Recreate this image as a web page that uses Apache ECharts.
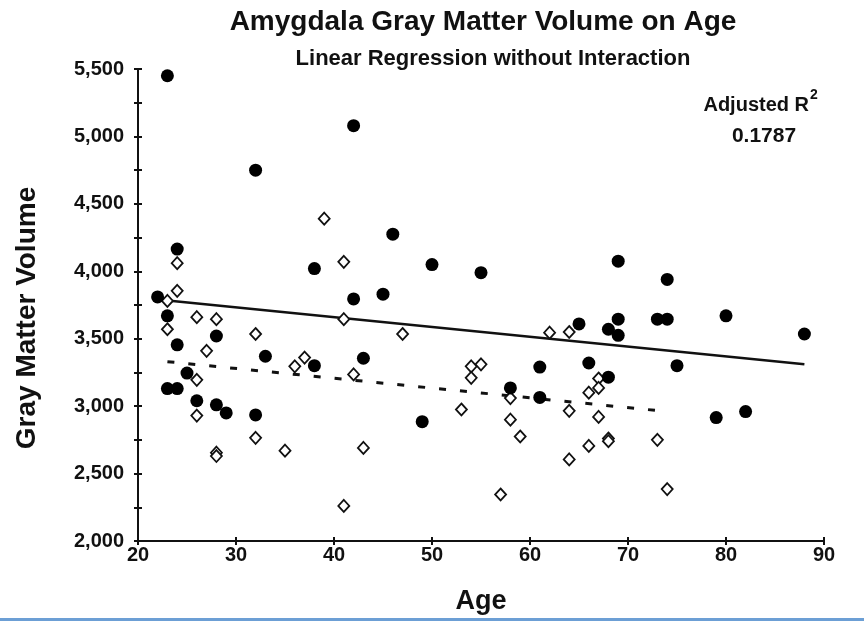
<!DOCTYPE html>
<html>
<head>
<meta charset="utf-8">
<title>Amygdala Gray Matter Volume on Age</title>
<script src="https://cdn.jsdelivr.net/npm/echarts@6/dist/echarts.min.js"></script>
<style>
  html, body { margin: 0; padding: 0; background: #ffffff; }
  #chart { width: 864px; height: 621px; }
</style>
</head>
<body>
<div id="chart"></div>
<script>
// Group shown with filled circles
const filledAge = [22, 23, 23, 23, 24, 24, 24, 25, 26, 28, 28, 29, 32, 32, 33, 38, 38, 42, 42, 43,
  45, 46, 49, 50, 55, 58, 61, 61, 65, 66, 68, 68, 69, 69, 69, 73, 74, 74, 75, 79, 80, 82, 88];
const filledVolume = [3810, 5450, 3670, 3130, 4165, 3455, 3130, 3245, 3040, 3520, 3010, 2950, 4750, 2935, 3370, 4020, 3300, 5080, 3795, 3355,
  3830, 4275, 2885, 4050, 3990, 3135, 3290, 3065, 3610, 3320, 3570, 3215, 4075, 3645, 3525, 3645, 3940, 3645, 3300, 2915, 3670, 2960, 3535];

// Group shown with open diamonds
const openAge = [23, 23, 24, 24, 26, 26, 26, 27, 28, 28, 28, 32, 32, 35, 36, 37, 39, 41, 41, 41, 42, 43,
  47, 53, 54, 54, 55, 57, 58, 58, 59, 62, 64, 64, 64, 66, 66, 67, 67, 67, 68, 68, 73, 74];
const openVolume = [3780, 3570, 4060, 3855, 3660, 3195, 2930, 3410, 3645, 2655, 2630, 3535, 2765, 2670, 3295, 3360, 4390, 4070, 3645, 2260, 3235, 2690,
  3535, 2975, 3295, 3210, 3310, 2345, 3060, 2900, 2775, 3545, 3550, 2965, 2605, 3100, 2705, 3205, 3135, 2920, 2760, 2740, 2750, 2385];

// Fitted regression lines (parallel: no interaction term)
const filledFitAge = [22, 88];
const filledFitVolume = [3790, 3310];
const openFitAge = [23, 74];
const openFitVolume = [3330, 2960];

// Axis ranges and ticks
const xMin = 20, xMax = 90, xStep = 10;
const yMin = 2000, yMax = 5500, yStep = 500;

const adjustedR2 = '0.1787';

const zip = (xs, ys) => xs.map((x, i) => [x, ys[i]]);
const FONT = '"Liberation Sans", Arial, Helvetica, sans-serif';

const chart = echarts.init(document.getElementById('chart'), null, { renderer: 'canvas' });

const baseX = {
  type: 'value', min: xMin, max: xMax, interval: xStep,
  splitLine: { show: false }
};
const baseY = {
  type: 'value', min: yMin, max: yMax, interval: yStep,
  splitLine: { show: false }
};

chart.setOption({
  backgroundColor: '#ffffff',
  animation: false,
  grid: { left: 138, right: 40, top: 69, bottom: 80, containLabel: false },
  xAxis: [
    Object.assign({}, baseX, {
      position: 'bottom',
      axisLine: { lineStyle: { color: '#111', width: 2 } },
      axisTick: { inside: false, length: 4, lineStyle: { color: '#111', width: 2 } },
      axisLabel: { color: '#111', fontFamily: FONT, fontWeight: 'bold', fontSize: 20, margin: 4 },
      name: 'Age', nameLocation: 'middle', nameGap: 47,
      nameTextStyle: { color: '#111', fontFamily: FONT, fontWeight: 'bold', fontSize: 27 }
    }),
    Object.assign({}, baseX, {
      position: 'bottom',
      axisLine: { show: false },
      axisTick: { inside: true, length: 4, lineStyle: { color: '#111', width: 2 } },
      axisLabel: { show: false }
    })
  ],
  yAxis: [
    Object.assign({}, baseY, {
      position: 'left',
      axisLine: { show: true, lineStyle: { color: '#111', width: 2 } },
      axisTick: { show: true, inside: false, length: 4, lineStyle: { color: '#111', width: 2 } },
      minorTick: { show: true, splitNumber: 2, length: 4, lineStyle: { color: '#111', width: 2 } },
      axisLabel: {
        color: '#111', fontFamily: FONT, fontWeight: 'bold', fontSize: 20, margin: 14,
        formatter: v => v.toLocaleString('en-US')
      }
    }),
    Object.assign({}, baseY, {
      position: 'left',
      axisLine: { show: false },
      axisTick: { show: true, inside: true, length: 4, lineStyle: { color: '#111', width: 2 } },
      minorTick: { show: true, splitNumber: 2, length: 4, lineStyle: { color: '#111', width: 2 } },
      axisLabel: { show: false }
    })
  ],
  series: [
    {
      type: 'line', data: zip(filledFitAge, filledFitVolume),
      symbol: 'none', silent: true, z: 2,
      lineStyle: { color: '#111', width: 2.5, type: 'solid' }
    },
    {
      type: 'line', data: zip(openFitAge, openFitVolume),
      symbol: 'none', silent: true, z: 2,
      lineStyle: { color: '#111', width: 3, type: [7, 14] }
    },
    {
      type: 'scatter', data: zip(openAge, openVolume),
      symbol: 'diamond', symbolSize: [11, 12], z: 3,
      itemStyle: { color: '#ffffff', borderColor: '#111', borderWidth: 1.8, opacity: 1 }
    },
    {
      type: 'scatter', data: zip(filledAge, filledVolume),
      symbol: 'circle', symbolSize: 13, z: 4,
      itemStyle: { color: '#000000', opacity: 1 }
    }
  ],
  graphic: [
    {
      type: 'text', x: 483, y: 22,
      style: { text: 'Amygdala Gray Matter Volume on Age', fill: '#111', font: 'bold 28px ' + FONT, textAlign: 'center', textVerticalAlign: 'middle' }
    },
    {
      type: 'text', x: 493, y: 59,
      style: { text: 'Linear Regression without Interaction', fill: '#111', font: 'bold 22px ' + FONT, textAlign: 'center', textVerticalAlign: 'middle' }
    },
    {
      type: 'text', x: 27, y: 318, rotation: Math.PI / 2,
      style: { text: 'Gray Matter Volume', fill: '#111', font: 'bold 28px ' + FONT, textAlign: 'center', textVerticalAlign: 'middle' }
    },
    {
      type: 'text', x: 809, y: 105,
      style: { text: 'Adjusted R', fill: '#111', font: 'bold 20px ' + FONT, textAlign: 'right', textVerticalAlign: 'middle' }
    },
    {
      type: 'text', x: 810, y: 95,
      style: { text: '2', fill: '#111', font: 'bold 14px ' + FONT, textAlign: 'left', textVerticalAlign: 'middle' }
    },
    {
      type: 'text', x: 764, y: 136,
      style: { text: adjustedR2, fill: '#111', font: 'bold 21px ' + FONT, textAlign: 'center', textVerticalAlign: 'middle' }
    },
    {
      type: 'rect', shape: { x: 0, y: 618, width: 864, height: 3 },
      style: { fill: '#6c9fd5' }, silent: true
    }
  ]
});
</script>
</body>
</html>
